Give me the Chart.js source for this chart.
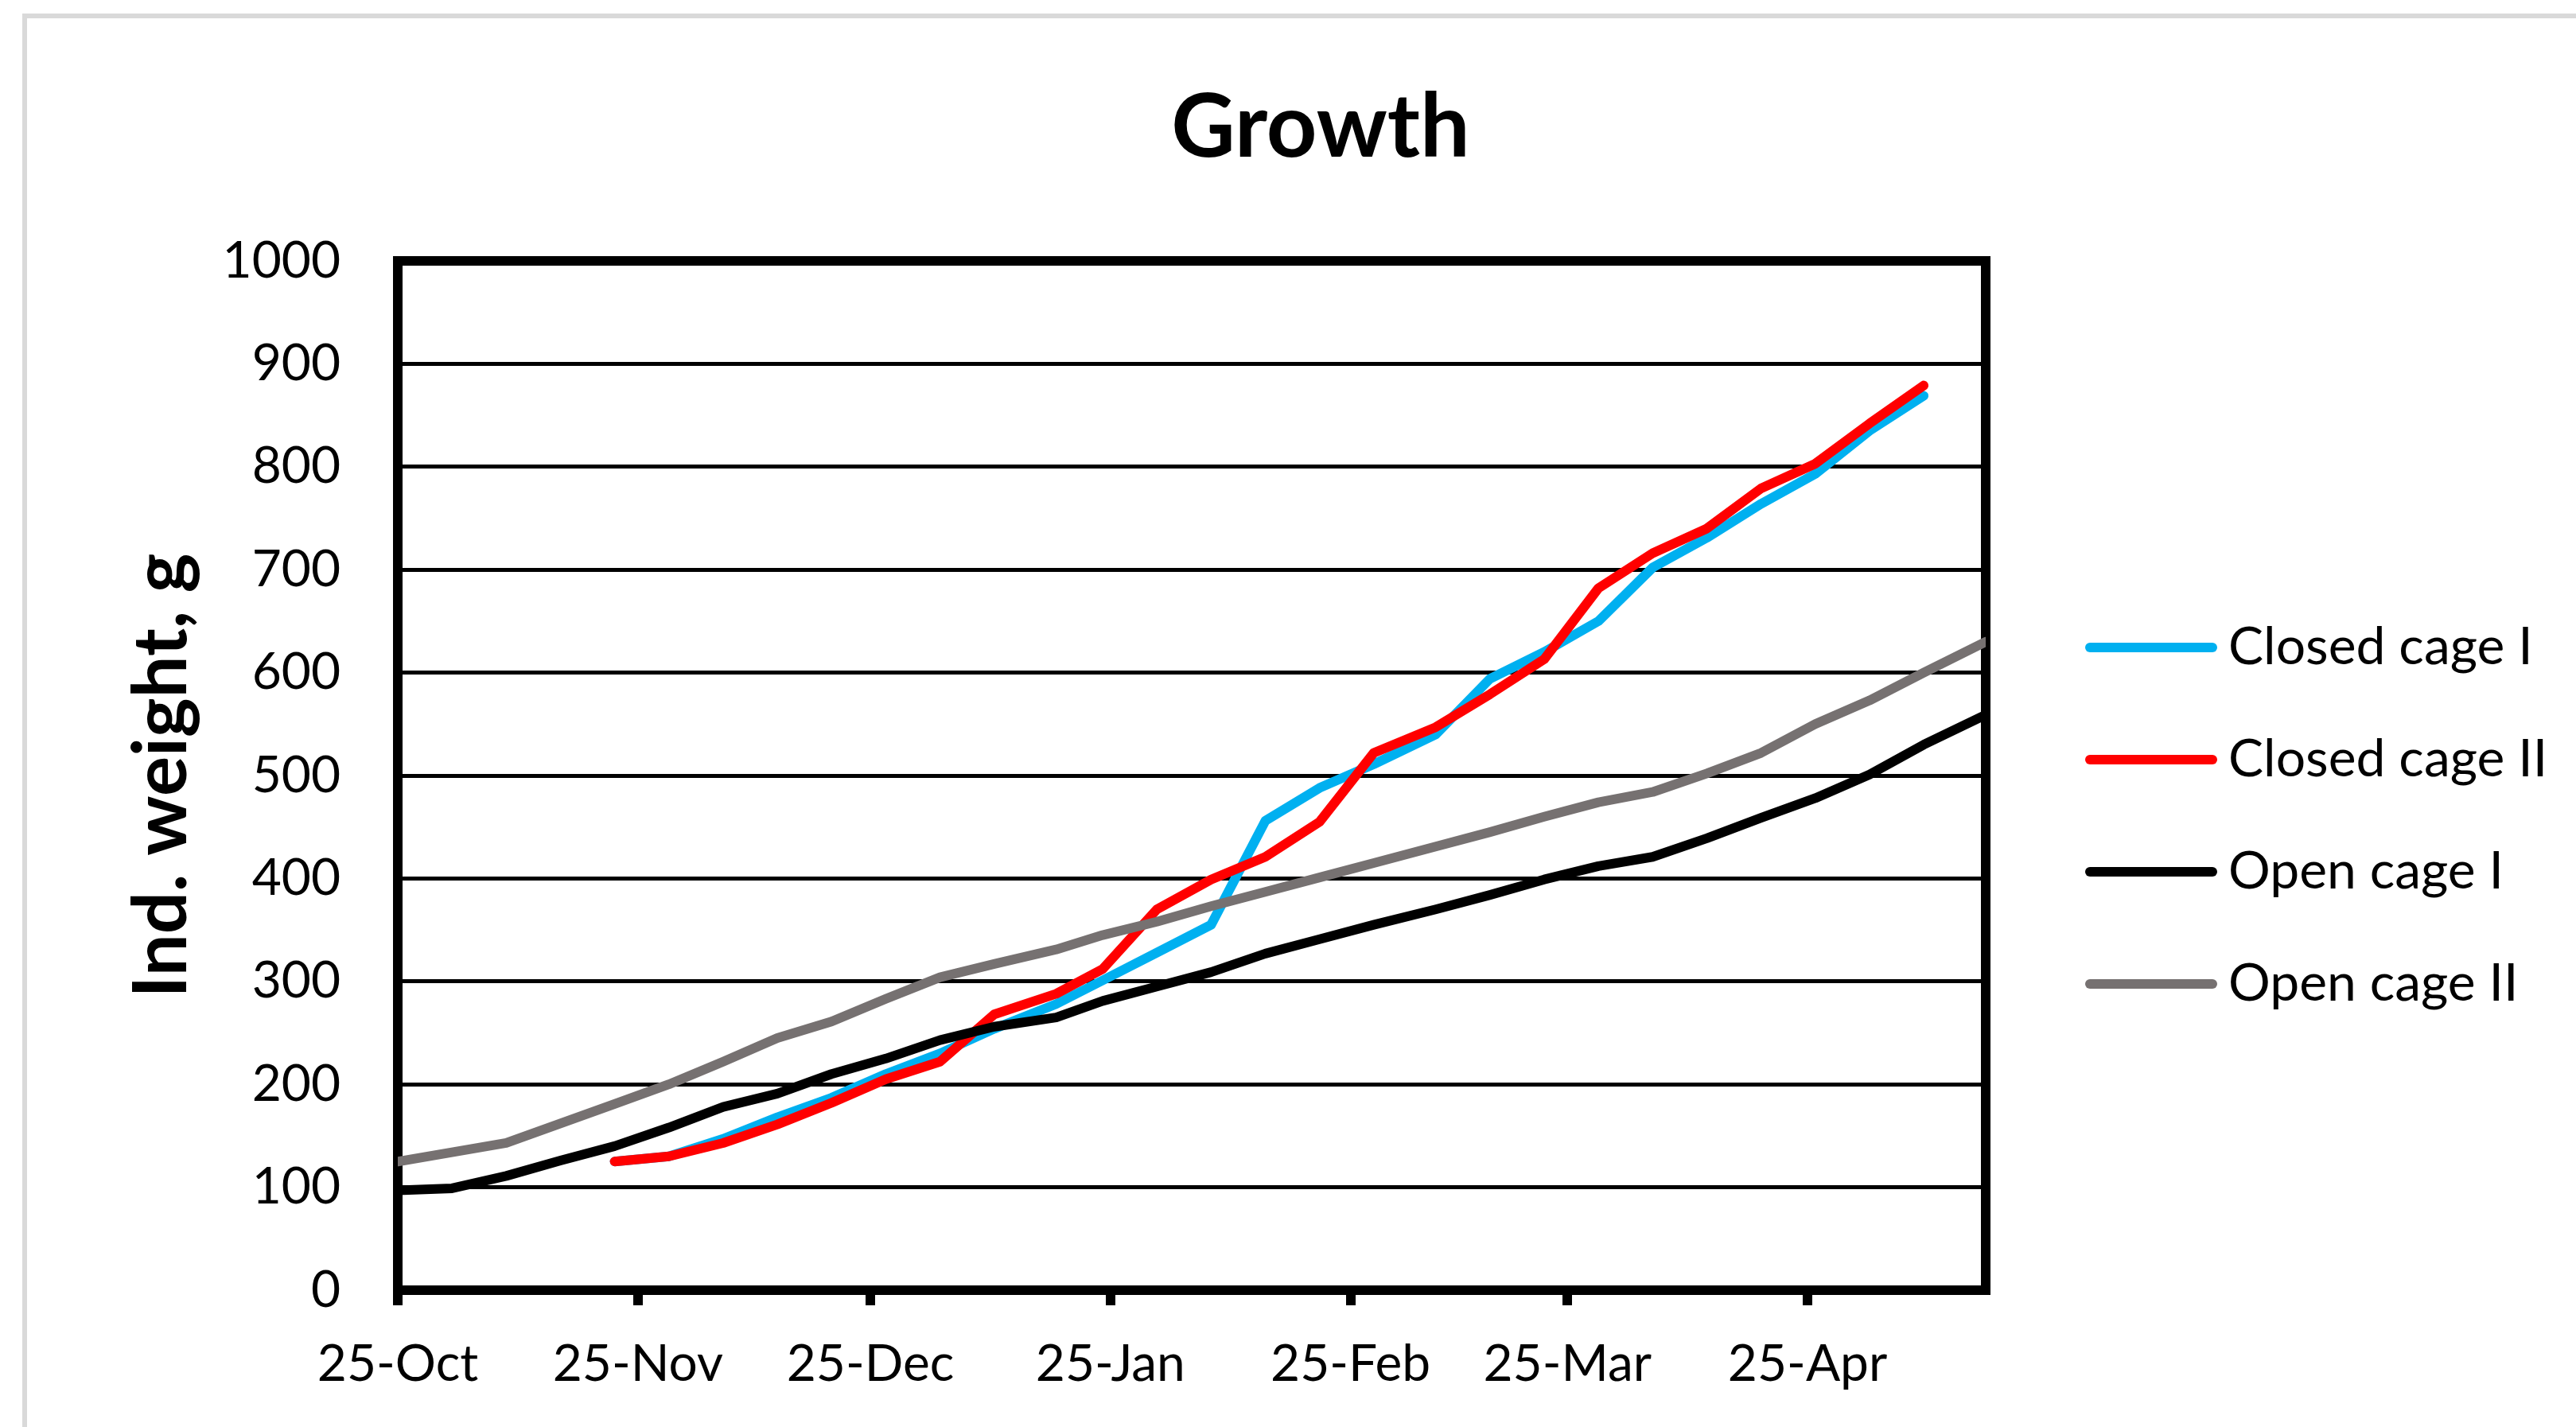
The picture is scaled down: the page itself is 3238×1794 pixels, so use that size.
<!DOCTYPE html>
<html>
<head>
<meta charset="utf-8">
<title>Growth</title>
<script src="https://cdn.jsdelivr.net/npm/chart.js@4.4.0/dist/chart.umd.min.js"></script>
<style>
  html, body { margin: 0; padding: 0; background: #fff; overflow: hidden; }
  #frame { position: absolute; left: 28px; top: 17px; width: 3300px; height: 1900px;
           border-top: 6px solid #d9d9d9; border-left: 6px solid #d9d9d9; }
  #wrap { position: absolute; left: 0; top: 0; width: 3238px; height: 1794px; }
</style>
</head>
<body>
<div id="frame"></div>
<div id="wrap"><canvas id="growth"></canvas></div>
<script>
  // days counted from 25-Oct
  var sampleDays = [0, 7, 14, 21, 28, 35, 42, 49, 56, 63, 70, 77, 85, 91, 98,
                    105, 112, 119, 126, 134, 141, 148, 155, 162, 169, 176, 183, 190, 197, 205];

  var closedCage1 = [null, null, null, null, 125, 130, 147, 168, 187, 210, 230, 254, 278, 301, 328,
                     355, 456, 488, 511, 540, 594, 620, 650, 702, 731, 764, 793, 835, 869, null];
  var closedCage2 = [null, null, null, null, 125, 130, 143, 161, 182, 205, 222, 268, 288, 312, 370,
                     399, 421, 455, 522, 547, 579, 613, 682, 716, 740, 779, 803, 842, 879, null];
  var openCage1 = [97, 99, 111, 126, 140, 158, 178, 191, 210, 225, 243, 256, 265, 281, 295,
                   309, 327, 341, 355, 370, 384, 399, 412, 421, 439, 459, 478, 501, 530, 559];
  var openCage2 = [125, 134, 143, 162, 181, 200, 222, 245, 261, 283, 304, 317, 331, 345, 358,
                   373, 387, 401, 415, 431, 445, 460, 474, 484, 502, 522, 550, 573, 600, 630];

  var tickDays = [0, 31, 61, 92, 123, 151, 182];
  var tickLabels = ["25-Oct", "25-Nov", "25-Dec", "25-Jan", "25-Feb", "25-Mar", "25-Apr"];
  var seriesNames = ["Closed cage I", "Closed cage II", "Open cage I", "Open cage II"];

  var FONT = "Lato";

  function points(values) {
    return sampleDays.map(function (d, i) { return { x: d, y: values[i] }; });
  }

  // excel style legend to the right of the plot
  var sideLegend = {
    id: "sideLegend",
    afterDraw: function (chart) {
      var ctx = chart.ctx;
      var area = chart.chartArea;
      ctx.save();
      ctx.font = "66px " + FONT;
      ctx.textBaseline = "alphabetic";
      ctx.lineCap = "round";
      chart.data.datasets.forEach(function (ds, i) {
        var y = area.top + 486 + i * 141;
        ctx.strokeStyle = ds.borderColor;
        ctx.lineWidth = 12;
        ctx.beginPath();
        ctx.moveTo(area.right + 131, y);
        ctx.lineTo(area.right + 285, y);
        ctx.stroke();
        ctx.fillStyle = "#000";
        ctx.fillText(ds.label, area.right + 305, y + 21);
      });
      ctx.restore();
    }
  };

  // top and right frame lines of the plot come from two empty axes
  function frameAxis(pos, fit) {
    return {
      type: "linear",
      position: pos,
      display: true,
      afterFit: fit,
      ticks: { display: false },
      grid: { drawOnChartArea: false, drawTicks: false, lineWidth: 12, color: "#000" },
      border: { display: true, color: "#000", width: 12 }
    };
  }

  new Chart(document.getElementById("growth"), {
    type: "line",
    data: {
      datasets: [
        { label: seriesNames[0], data: points(closedCage1), borderColor: "#00b0f0", backgroundColor: "#00b0f0", order: 4 },
        { label: seriesNames[1], data: points(closedCage2), borderColor: "#ff0000", backgroundColor: "#ff0000", order: 3 },
        { label: seriesNames[2], data: points(openCage1), borderColor: "#000000", backgroundColor: "#000000", order: 2 },
        { label: seriesNames[3], data: points(openCage2), borderColor: "#767171", backgroundColor: "#767171", order: 1 }
      ]
    },
    options: {
      responsive: true,
      maintainAspectRatio: false,
      animation: false,
      layout: { padding: { left: 82, right: 0, top: 0, bottom: 0 } },
      elements: {
        line: { borderWidth: 12, borderCapStyle: "round", borderJoinStyle: "round", tension: 0, fill: false },
        point: { radius: 0, hoverRadius: 0 }
      },
      plugins: {
        legend: { display: false },
        tooltip: { enabled: false },
        title: {
          display: true,
          text: "Growth",
          color: "#000",
          font: { family: FONT, size: 111, weight: "bold", lineHeight: 1 },
          padding: { top: 106, bottom: 111 }
        }
      },
      scales: {
        x: {
          type: "linear",
          position: "bottom",
          min: 0,
          max: 205,
          afterBuildTicks: function (s) {
            s.ticks = tickDays.map(function (v) { return { value: v }; });
          },
          afterFit: function (s) { s.height = 172; },
          grid: { drawOnChartArea: false, drawTicks: true, tickLength: 19, tickWidth: 12,
                  tickColor: "#000", lineWidth: 12, color: "#000" },
          border: { display: true, color: "#000", width: 12 },
          ticks: {
            autoSkip: false,
            maxRotation: 0,
            padding: 36,
            color: "#000",
            font: { family: FONT, size: 64 },
            callback: function (v) { return tickLabels[tickDays.indexOf(v)]; }
          }
        },
        y: {
          min: 0,
          max: 1000,
          afterFit: function (s) { s.width = 418; },
          grid: { color: "#000", lineWidth: 5, drawTicks: false },
          border: { display: true, color: "#000", width: 12 },
          ticks: {
            stepSize: 100,
            padding: 72,
            color: "#000",
            font: { family: FONT, size: 64 },
            callback: function (v) { return String(v); }
          },
          title: {
            display: true,
            text: "Ind. weight, g",
            color: "#000",
            font: { family: FONT, size: 94, weight: "bold", lineHeight: 1 },
            padding: { top: 75, bottom: 0 }
          }
        },
        xTop: frameAxis("top", function (s) { s.height = 0; }),
        yRight: frameAxis("right", function (s) { s.width = 742; })
      }
    },
    plugins: [sideLegend]
  });
</script>
</body>
</html>
